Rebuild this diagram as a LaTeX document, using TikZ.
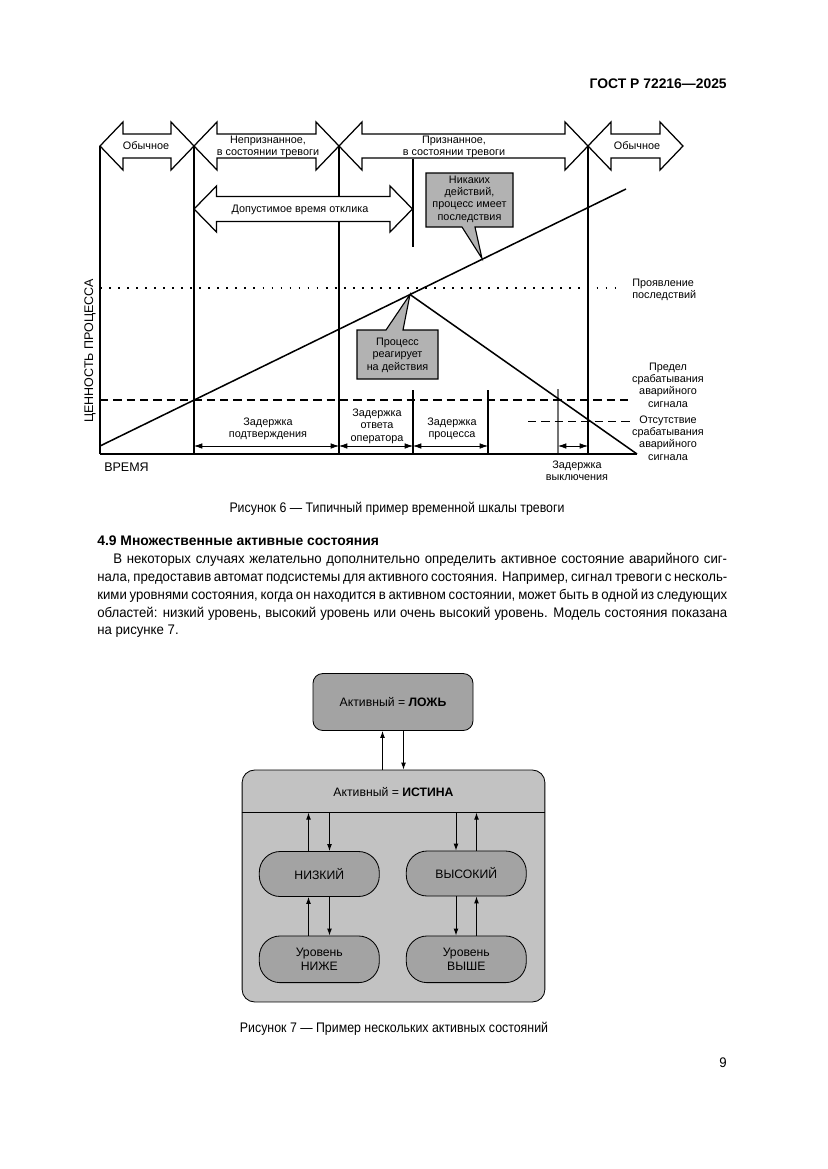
\documentclass[tikz,border=0pt]{standalone}
\usepackage{fontspec}
\setmainfont{Liberation Sans}
\newfontfamily\bodyfont[FakeStretch=0.95]{Liberation Sans}
\newfontfamily\capfont[FakeStretch=0.89]{Liberation Sans}
\usetikzlibrary{arrows.meta, positioning, calc}

% justified line of given width
\newcommand{\jline}[2]{\makebox[#1][s]{#2}}

\tikzset{
  page/.style={font=\fontsize{10}{12}\bodyfont, inner sep=0pt},
  lbl/.style={font=\fontsize{7.8}{8.9}\selectfont, align=center, inner sep=0pt},
  axis line/.style={line width=1.1pt},
  mark line/.style={line width=0.8pt},
  band/.style={draw, line width=0.9pt, fill=white},
  callout/.style={draw, line width=0.8pt, fill=black!30},
  dim/.style={{Latex[length=6pt,width=4pt]}-{Latex[length=6pt,width=4pt]}, line width=0.5pt},
  state/.style={draw, line width=0.6pt, fill=black!36, font=\fontsize{8.8}{10}\selectfont, align=center, inner sep=0pt},
  pill/.style={state, minimum width=86.4pt, minimum height=32.4pt, rounded corners=15pt},
  flow/.style={-{Latex[length=5pt,width=3.5pt]}, line width=0.7pt},
}

\begin{document}
\begin{tikzpicture}[x=0.72pt, y=-0.72pt]
  \useasboundingbox[fill=white] (0,0) rectangle (827,1169);

  % --- Page head ---
  \node[page, font=\fontsize{10}{12}\selectfont\bfseries, anchor=base east] (hdr) at (727,88.5) {ГОСТ Р 72216—2025};

  % --- Figure 6: alarm time line ---
  % vertical marks
  \draw[axis line] (100,146) -- (100,454);
  \foreach \x in {194, 339, 588} {
    \draw[mark line] (\x,146) -- (\x,454);
  }
  \draw[mark line] (413,159) -- (413,247);
  \foreach \x in {413, 488} {
    \draw[mark line] (\x,390) -- (\x,454);
  }
  \draw[mark line, black!55] (558,389) -- (558,454);

  % limits
  \draw[line width=1.3pt, dash pattern=on 1.3pt off 5.2pt] (100,288) -- (622,288);
  \draw[line width=0.8pt, dash pattern=on 6pt off 3.6pt] (100,400) -- (628,400);
  \draw[line width=0.6pt, dash pattern=on 6pt off 3.6pt] (528,421) -- (632,421);

  % axis and process value
  \draw[axis line] (100,454) -- (637,454);
  \draw[axis line] (100,446) -- (626,189);
  \draw[axis line] (410,294.5) -- (637,454);

  % state bands
  \foreach \xa/\xb in {100/194, 194/339, 339/588, 588/683} {
    \draw[band] (\xa,146) -- (\xa+23,122) -- (\xa+23,134) -- (\xb-23,134) -- (\xb-23,122)
      -- (\xb,146) -- (\xb-23,170) -- (\xb-23,158) -- (\xa+23,158) -- (\xa+23,170) -- cycle;
  }
  \draw[band] (194,209) -- (216.5,186) -- (216.5,196.5) -- (390,196.5) -- (390,186)
    -- (412.5,209) -- (390,232) -- (390,221.5) -- (216.5,221.5) -- (216.5,232) -- cycle;
  \node[lbl] (norm1) at (146,146) {Обычное};
  \node[lbl] (unack) at (268,147) {Непризнанное,\\в состоянии тревоги};
  \node[lbl] (ack) at (454,147) {Признанное,\\в состоянии тревоги};
  \node[lbl] (norm2) at (637,146) {Обычное};
  \node[lbl] (resp) at (300,210) {Допустимое время отклика};

  % callouts
  \draw[callout] (426,173) -- (513,173) -- (513,227) -- (475,227) -- (482,258.5)
    -- (462,227) -- (426,227) -- cycle;
  \node[lbl] (noact) at (469.5,199) {Никаких\\действий,\\процесс имеет\\последствия};
  \draw[callout] (357,330) -- (386,330) -- (410,294.5) -- (403,330) -- (438,330)
    -- (438,379) -- (357,379) -- cycle;
  \node[lbl] (react) at (397.5,355) {Процесс\\реагирует\\на действия};

  % delays
  \foreach \xa/\xb in {194/339, 339/413, 413/488, 558/588} {
    \draw[dim] (\xa,446) -- (\xb,446);
  }
  \node[lbl] (dconf) at (268,429) {Задержка\\подтверждения};
  \node[lbl] (doper) at (377,426) {Задержка\\ответа\\оператора};
  \node[lbl] (dproc) at (452,429) {Задержка\\процесса};
  \node[lbl] (doff) at (577,471) {Задержка\\выключения};
  \node[lbl, align=left, anchor=west] (conseq) at (632,290) {Проявление\\последствий};
  \node[lbl] (limit) at (668,385) {Предел\\срабатывания\\аварийного\\сигнала};
  \node[lbl] (nolimit) at (668,438) {Отсутствие\\срабатывания\\аварийного\\сигнала};
  \node[lbl, font=\fontsize{9}{11}\selectfont, anchor=west] (time) at (104,467) {ВРЕМЯ};
  \node[lbl, font=\fontsize{9}{11}\selectfont, rotate=90] (value) at (90,351) {ЦЕННОСТЬ ПРОЦЕССА};

  \node[page, font=\fontsize{10}{12}\capfont, anchor=base] (cap6) at (397,512) {Рисунок 6 — Типичный пример временной шкалы тревоги};

  % --- Section text ---
  \node[page, font=\fontsize{10}{12}\selectfont\bfseries, anchor=base west] (sec) at (97,545) {4.9 Множественные активные состояния};
  \node[page, anchor=base west] (par1) at (113,563) {\jline{442pt}{В некоторых случаях желательно дополнительно определить активное состояние аварийного сиг-}};
  \node[page, anchor=base west] (par2) at (97,581) {\jline{453.6pt}{нала, предоставив автомат подсистемы для активного состояния. Например, сигнал тревоги с несколь-}};
  \node[page, anchor=base west] (par3) at (97,599) {\jline{453.6pt}{кими уровнями состояния, когда он находится в активном состоянии, может быть в одной из следующих}};
  \node[page, anchor=base west] (par4) at (97,617) {\jline{453.6pt}{областей: низкий уровень, высокий уровень или очень высокий уровень. Модель состояния показана}};
  \node[page, anchor=base west] (par5) at (97,634.5) {на рисунке 7.};

  % --- Figure 7: state model ---
  \node[state, minimum width=115.2pt, minimum height=41pt, rounded corners=7pt] (lozh) at (393,702) {Активный = \textbf{ЛОЖЬ}};
  \node[state, fill=black!24, minimum width=218pt, minimum height=167pt, rounded corners=9pt] (istina) at (393.5,886) {};
  \node[lbl, font=\fontsize{8.8}{10}\selectfont] (istinatxt) at (393.5,792) {Активный = \textbf{ИСТИНА}};
  \path (istina.north) ++(0,43) coordinate (div);
  \draw[line width=0.6pt] (istina.west |- div) -- (istina.east |- div);
  \node[pill] (low) at (319.3,874) {НИЗКИЙ};
  \node[pill] (high) at (466.3,873.5) {ВЫСОКИЙ};
  \node[pill, minimum height=33.6pt] (lower) at (319.3,959.3) {Уровень\\НИЖЕ};
  \node[pill, minimum height=33.6pt] (higher) at (466.3,959.3) {Уровень\\ВЫШЕ};

  % transitions
  \coordinate (up0) at (382.5,0);
  \coordinate (dn0) at (403.5,0);
  \coordinate (upL) at (308.5,0);
  \coordinate (dnL) at (329.5,0);
  \coordinate (dnR) at (456,0);
  \coordinate (upR) at (476.5,0);
  \draw[flow] (istina.north -| up0) -- (lozh.south -| up0);
  \draw[flow] (lozh.south -| dn0) -- (istina.north -| dn0);
  \draw[flow] (low.north -| upL) -- (div -| upL);
  \draw[flow] (div -| dnL) -- (low.north -| dnL);
  \draw[flow] (lower.north -| upL) -- (low.south -| upL);
  \draw[flow] (low.south -| dnL) -- (lower.north -| dnL);
  \draw[flow] (div -| dnR) -- (high.north -| dnR);
  \draw[flow] (high.north -| upR) -- (div -| upR);
  \draw[flow] (high.south -| dnR) -- (higher.north -| dnR);
  \draw[flow] (higher.north -| upR) -- (high.south -| upR);

  \node[page, font=\fontsize{10}{12}\capfont, anchor=base] (cap7) at (394,1032) {Рисунок 7 — Пример нескольких активных состояний};
  \node[page, anchor=base east] (pnum) at (727,1067) {9};
\end{tikzpicture}
\end{document}
